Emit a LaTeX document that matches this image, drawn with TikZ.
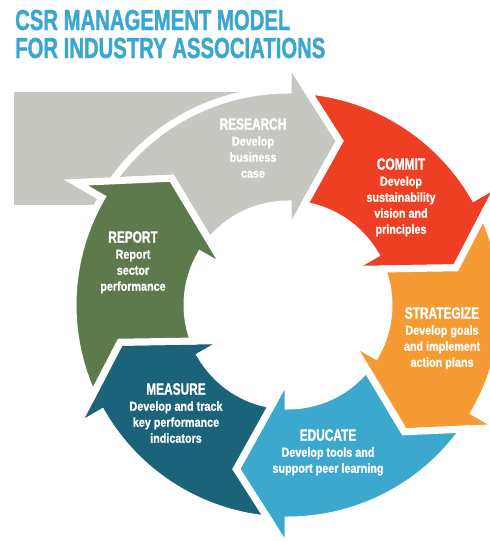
\documentclass[tikz,border=0pt]{standalone}
\usepackage{fontspec}
\setmainfont{Liberation Sans}
\font\ttlraw="Liberation Sans/B:extend=0.70;embolden=1.2" at 29pt
\font\hdraw="Liberation Sans/B:extend=0.72;embolden=1.2" at 16.5pt
\font\bdraw="Liberation Sans/B:extend=0.83;embolden=1.0" at 13pt
\usetikzlibrary{calc}
\definecolor{cgray}{HTML}{C7C7C1}
\definecolor{cred}{HTML}{EE3F24}
\definecolor{corange}{HTML}{F69A33}
\definecolor{cblue}{HTML}{3DA8CE}
\definecolor{cteal}{HTML}{1B6378}
\definecolor{cgreen}{HTML}{5C7A4C}
\definecolor{ctitle}{HTML}{3BA7D1}
\newcommand\ttl{\fontsize{29}{28}\selectfont\ttlraw}
\newcommand\hd{\hdraw}
\newcommand\bd{\fontsize{13}{16}\selectfont\bdraw}
\newcommand\ringpiece[3]{%
  \filldraw[piece,#1] ($(C)+(#2+17.5:172)$) -- ($(C)+(#2+5.26:215)$)
    arc[start angle=#2+5.26, end angle=#3, radius=215]
    -- ($(C)+(#3:245)$) -- ($(C)+(#3+17.5:172)$) -- ($(C)+(#3:71)$)
    -- ($(C)+(#3:101)$)
    arc[start angle=#3, end angle=#2+9.10, radius=101] -- cycle;}
\begin{document}
\begin{tikzpicture}[x=1pt,y=-1pt,
  piece/.style={draw=white,line width=7pt,line join=miter},
  lbl/.style={text=white,align=center,inner sep=0pt,font=\bd,anchor=north},
  ttlnode/.style={text=ctitle,inner sep=0pt,font=\ttl,anchor=base west}]
\useasboundingbox (0,0) rectangle (490,541);
\clip (0,0) rectangle (490,541);
\coordinate (C) at (288,305);
\fill[cgray] (14,92) rectangle (288,205);
\ringpiece{fill=cgray}{-150}{-90}
\ringpiece{fill=cred}{-90}{-30}
\ringpiece{fill=corange}{-30}{30}
\ringpiece{fill=cblue}{30}{90}
\ringpiece{fill=cteal}{90}{150}
\ringpiece{fill=cgreen}{150}{210}
\node[ttlnode] (title1) at (15,30) {CSR MANAGEMENT MODEL};
\node[ttlnode] (title2) at (15,58) {FOR INDUSTRY ASSOCIATIONS};
\node[lbl] (research) at (253,118) {{\hd RESEARCH}\\Develop\\business\\case};
\node[lbl] (commit) at (401,158) {{\hd COMMIT}\\Develop\\sustainability\\vision and\\principles};
\node[lbl] (strategize) at (442,307) {{\hd STRATEGIZE}\\Develop goals\\and implement\\action plans};
\node[lbl] (educate) at (328,429) {{\hd EDUCATE}\\Develop tools and\\support peer learning};
\node[lbl] (measure) at (176,383) {{\hd MEASURE}\\Develop and track\\key performance\\indicators};
\node[lbl] (report) at (133,231) {{\hd REPORT}\\Report\\sector\\performance};
\end{tikzpicture}
\end{document}
